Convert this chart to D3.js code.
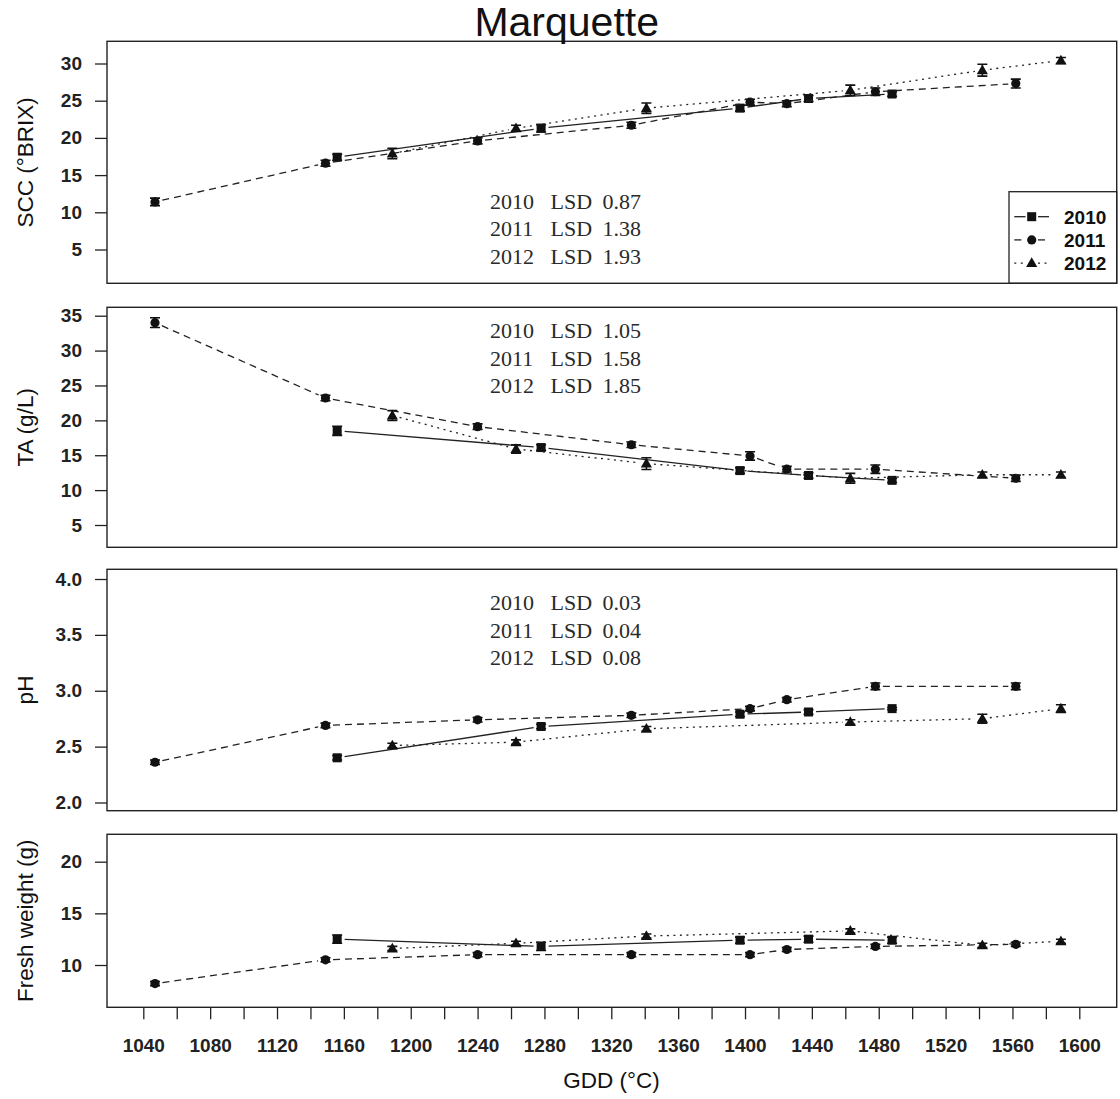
<!DOCTYPE html>
<html>
<head>
<meta charset="utf-8">
<script src="https://cdn.jsdelivr.net/npm/d3@7"></script>
<style>
  body { margin: 0; background: #fff; }
  svg { display: block; }
</style>
</head>
<body>
<script>
var width = 1120;
var height = 1099;

// sampling dates (GDD) per season
var years = ['2010', '2011', '2012'];
var gdd2010 = [1156, 1278, 1397, 1438, 1488];
var gdd2011 = [1047, 1149, 1240, 1332, 1403, 1425, 1478, 1562];
var gdd2012 = [1189, 1263, 1341, 1463, 1542, 1589];

// soluble solids (°Brix)
var scc2010 = [17.4, 21.3, 24.0, 25.3, 25.9];
var scc2011 = [11.4, 16.6, 19.6, 21.7, 24.8, 24.6, 26.2, 27.3];
var scc2012 = [17.9, 21.3, 24.0, 26.4, 29.1, 30.4];
var sccErr2010 = [0.4, 0.5, 0.4, 0.4, 0.3];
var sccErr2011 = [0.5, 0.4, 0.4, 0.4, 0.4, 0.4, 0.5, 0.6];
var sccErr2012 = [0.7, 0.4, 0.7, 0.7, 0.8, 0.4];
var sccLsd = ['0.87', '1.38', '1.93'];

// titratable acidity (g/L)
var ta2010 = [18.5, 16.1, 12.8, 12.1, 11.4];
var ta2011 = [34.0, 23.2, 19.1, 16.5, 14.9, 13.0, 13.0, 11.7];
var ta2012 = [20.7, 15.9, 13.8, 11.7, 12.2, 12.2];
var taErr2010 = [0.65, 0.4, 0.4, 0.4, 0.3];
var taErr2011 = [0.7, 0.4, 0.4, 0.4, 0.6, 0.4, 0.6, 0.45];
var taErr2012 = [0.7, 0.6, 0.85, 0.7, 0.4, 0.4];
var taLsd = ['1.05', '1.58', '1.85'];

// pH
var ph2010 = [2.40, 2.68, 2.79, 2.81, 2.84];
var ph2011 = [2.36, 2.69, 2.74, 2.78, 2.84, 2.92, 3.04, 3.04];
var ph2012 = [2.51, 2.54, 2.66, 2.72, 2.75, 2.84];
var phErr2010 = [0.02, 0.02, 0.02, 0.02, 0.01];
var phErr2011 = [0.02, 0.02, 0.02, 0.02, 0.02, 0.02, 0.03, 0.03];
var phErr2012 = [0.02, 0.02, 0.02, 0.02, 0.04, 0.035];
var phLsd = ['0.03', '0.04', '0.08'];

// berry fresh weight (g)
var fw2010 = [12.5, 11.8, 12.4, 12.5, 12.4];
var fw2011 = [8.2, 10.5, 11.0, 11.0, 11.0, 11.5, 11.8, 12.0];
var fw2012 = [11.6, 12.1, 12.8, 13.3, 11.9, 12.3];
var fwErr2010 = [0.4, 0.4, 0.3, 0.3, 0.3];
var fwErr2011 = [0.2, 0.2, 0.2, 0.2, 0.2, 0.2, 0.2, 0.2];
var fwErr2012 = [0.2, 0.2, 0.2, 0.2, 0.2, 0.2];

var xTicks = d3.range(1040, 1601, 20);
var sccTicks = [5, 10, 15, 20, 25, 30];
var taTicks = [5, 10, 15, 20, 25, 30, 35];
var phTicks = [2.0, 2.5, 3.0, 3.5, 4.0];
var fwTicks = [10, 15, 20];

var left = 107, right = 1116.7;
var x = d3.scaleLinear().domain([1040, 1600]).range([143.3, 1079.3]);

var styles = {
  '2010': { dash: null, shape: 'square' },
  '2011': { dash: '7,5', shape: 'circle' },
  '2012': { dash: '2,4.5', shape: 'triangle' }
};

var panels = [
  { label: 'SCC (°BRIX)', top: 41.3, bottom: 283.3, ticks: sccTicks, fmt: d3.format('d'),
    y: d3.scaleLinear().domain([5, 30]).range([249.5, 63.5]),
    series: [[gdd2010, scc2010, sccErr2010], [gdd2011, scc2011, sccErr2011], [gdd2012, scc2012, sccErr2012]],
    lsd: sccLsd, lsdY: 208.5, legend: true },
  { label: 'TA (g/L)', top: 307.3, bottom: 547.3, ticks: taTicks, fmt: d3.format('d'),
    y: d3.scaleLinear().domain([5, 35]).range([525, 315.7]),
    series: [[gdd2010, ta2010, taErr2010], [gdd2011, ta2011, taErr2011], [gdd2012, ta2012, taErr2012]],
    lsd: taLsd, lsdY: 338 },
  { label: 'pH', top: 569.3, bottom: 810.7, ticks: phTicks, fmt: d3.format('.1f'),
    y: d3.scaleLinear().domain([2, 4]).range([802.5, 579]),
    series: [[gdd2010, ph2010, phErr2010], [gdd2011, ph2011, phErr2011], [gdd2012, ph2012, phErr2012]],
    lsd: phLsd, lsdY: 610 },
  { label: 'Fresh weight (g)', top: 834.3, bottom: 1007.3, ticks: fwTicks, fmt: d3.format('d'),
    y: d3.scaleLinear().domain([10, 20]).range([965, 861.7]),
    series: [[gdd2010, fw2010, fwErr2010], [gdd2011, fw2011, fwErr2011], [gdd2012, fw2012, fwErr2012]] }
];

var svg = d3.select('body').append('svg')
  .attr('width', width)
  .attr('height', height)
  .style('font-family', '"Liberation Sans", Arial, sans-serif');

svg.append('rect').attr('width', width).attr('height', height).attr('fill', '#fff');

function marker(g, shape, cx, cy) {
  if (shape === 'square') {
    g.append('rect').attr('x', cx - 4.5).attr('y', cy - 4.5)
      .attr('width', 9).attr('height', 9).attr('fill', '#111');
  } else if (shape === 'circle') {
    g.append('circle').attr('cx', cx).attr('cy', cy).attr('r', 4.6).attr('fill', '#111');
  } else {
    g.append('path')
      .attr('d', 'M' + cx + ' ' + (cy - 5.8) + ' L' + (cx + 5.6) + ' ' + (cy + 4) + ' L' + (cx - 5.6) + ' ' + (cy + 4) + ' Z')
      .attr('fill', '#111');
  }
}

// line with gaps around the points, like type = "b"
function drawSeries(g, y, gdd, vals, errs, st) {
  var pts = gdd.map(function (d, i) { return [x(d), y(vals[i])]; });
  var gap = 7.5;
  for (var i = 0; i < pts.length - 1; i++) {
    var p = pts[i], q = pts[i + 1];
    var dx = q[0] - p[0], dy = q[1] - p[1];
    var len = Math.sqrt(dx * dx + dy * dy);
    if (len <= 2 * gap) continue;
    var ux = dx / len, uy = dy / len;
    g.append('line')
      .attr('x1', p[0] + ux * gap).attr('y1', p[1] + uy * gap)
      .attr('x2', q[0] - ux * gap).attr('y2', q[1] - uy * gap)
      .attr('stroke', '#222')
      .attr('stroke-width', 1.3)
      .attr('stroke-dasharray', st.dash);
  }
  // error bars
  gdd.forEach(function (d, i) {
    var cx = x(d), y1 = y(vals[i] - errs[i]), y2 = y(vals[i] + errs[i]);
    g.append('path')
      .attr('d', 'M' + cx + ' ' + y1 + ' V' + y2 + ' M' + (cx - 5) + ' ' + y1 + ' H' + (cx + 5) + ' M' + (cx - 5) + ' ' + y2 + ' H' + (cx + 5))
      .attr('stroke', '#111').attr('stroke-width', 1.6).attr('fill', 'none');
  });
  pts.forEach(function (p) { marker(g, st.shape, p[0], p[1]); });
}

panels.forEach(function (pn) {
  var g = svg.append('g');

  var yAxis = d3.axisLeft(pn.y).tickValues(pn.ticks).tickFormat(pn.fmt).tickSize(12).tickPadding(13);
  var ax = g.append('g').attr('transform', 'translate(' + left + ',0)').call(yAxis);
  ax.select('.domain').remove();
  ax.selectAll('.tick line').attr('stroke', '#222').attr('stroke-width', 1.3);
  ax.selectAll('.tick text').attr('font-size', 19).attr('font-weight', 'bold')
    .attr('fill', '#222').attr('font-family', '"Liberation Sans", Arial, sans-serif');

  g.append('text')
    .attr('transform', 'translate(33,' + ((pn.top + pn.bottom) / 2) + ') rotate(-90)')
    .attr('text-anchor', 'middle')
    .attr('font-size', 22.5)
    .attr('fill', '#111')
    .text(pn.label);

  pn.series.forEach(function (s, i) {
    drawSeries(g, pn.y, s[0], s[1], s[2], styles[years[i]]);
  });

  if (pn.lsd) {
    pn.lsd.forEach(function (v, i) {
      var ty = pn.lsdY + i * 27.6;
      var t = g.append('g').attr('font-family', '"Liberation Serif", "DejaVu Serif", serif')
        .attr('font-size', 22).attr('fill', '#2a2a2a');
      t.append('text').attr('x', 490).attr('y', ty).text(years[i]);
      t.append('text').attr('x', 550.5).attr('y', ty).text('LSD');
      t.append('text').attr('x', 602.5).attr('y', ty).text(v);
    });
  }

  if (pn.legend) {
    var lg = g.append('g');
    lg.append('rect').attr('x', 1009).attr('y', 191.7)
      .attr('width', right - 1009).attr('height', pn.bottom - 191.7)
      .attr('fill', '#fff').attr('stroke', '#222').attr('stroke-width', 1.3);
    years.forEach(function (yr, i) {
      var ly = 216.7 + i * 23.2;
      var st = styles[yr];
      [[1014.3, 1025.5], [1038, 1049]].forEach(function (seg) {
        lg.append('line').attr('x1', seg[0]).attr('x2', seg[1]).attr('y1', ly).attr('y2', ly)
          .attr('stroke', '#222').attr('stroke-width', 1.3).attr('stroke-dasharray', st.dash);
      });
      marker(lg, st.shape, 1031.7, ly);
      lg.append('text').attr('x', 1064).attr('y', ly + 7)
        .attr('font-size', 19).attr('font-weight', 'bold').attr('fill', '#111').text(yr);
    });
  }

  g.append('rect')
    .attr('x', left).attr('y', pn.top)
    .attr('width', right - left).attr('height', pn.bottom - pn.top)
    .attr('fill', 'none').attr('stroke', '#222').attr('stroke-width', 1.4);
});

// shared GDD axis under the last panel
var xAxis = d3.axisBottom(x).tickValues(xTicks)
  .tickFormat(function (d) { return d % 40 === 0 ? d : ''; })
  .tickSize(12).tickPadding(19);
var xa = svg.append('g').attr('transform', 'translate(0,' + panels[3].bottom + ')').call(xAxis);
xa.select('.domain').remove();
xa.selectAll('.tick line').attr('stroke', '#222').attr('stroke-width', 1.3);
xa.selectAll('.tick text').attr('font-size', 19).attr('font-weight', 'bold')
  .attr('fill', '#222').attr('font-family', '"Liberation Sans", Arial, sans-serif');

svg.append('text')
  .attr('x', 611.5).attr('y', 1088)
  .attr('text-anchor', 'middle')
  .attr('font-size', 22.5)
  .attr('fill', '#111')
  .text('GDD (°C)');

svg.append('text')
  .attr('x', 566.7).attr('y', 36)
  .attr('text-anchor', 'middle')
  .attr('font-size', 41)
  .attr('fill', '#111')
  .text('Marquette');
</script>
</body>
</html>
